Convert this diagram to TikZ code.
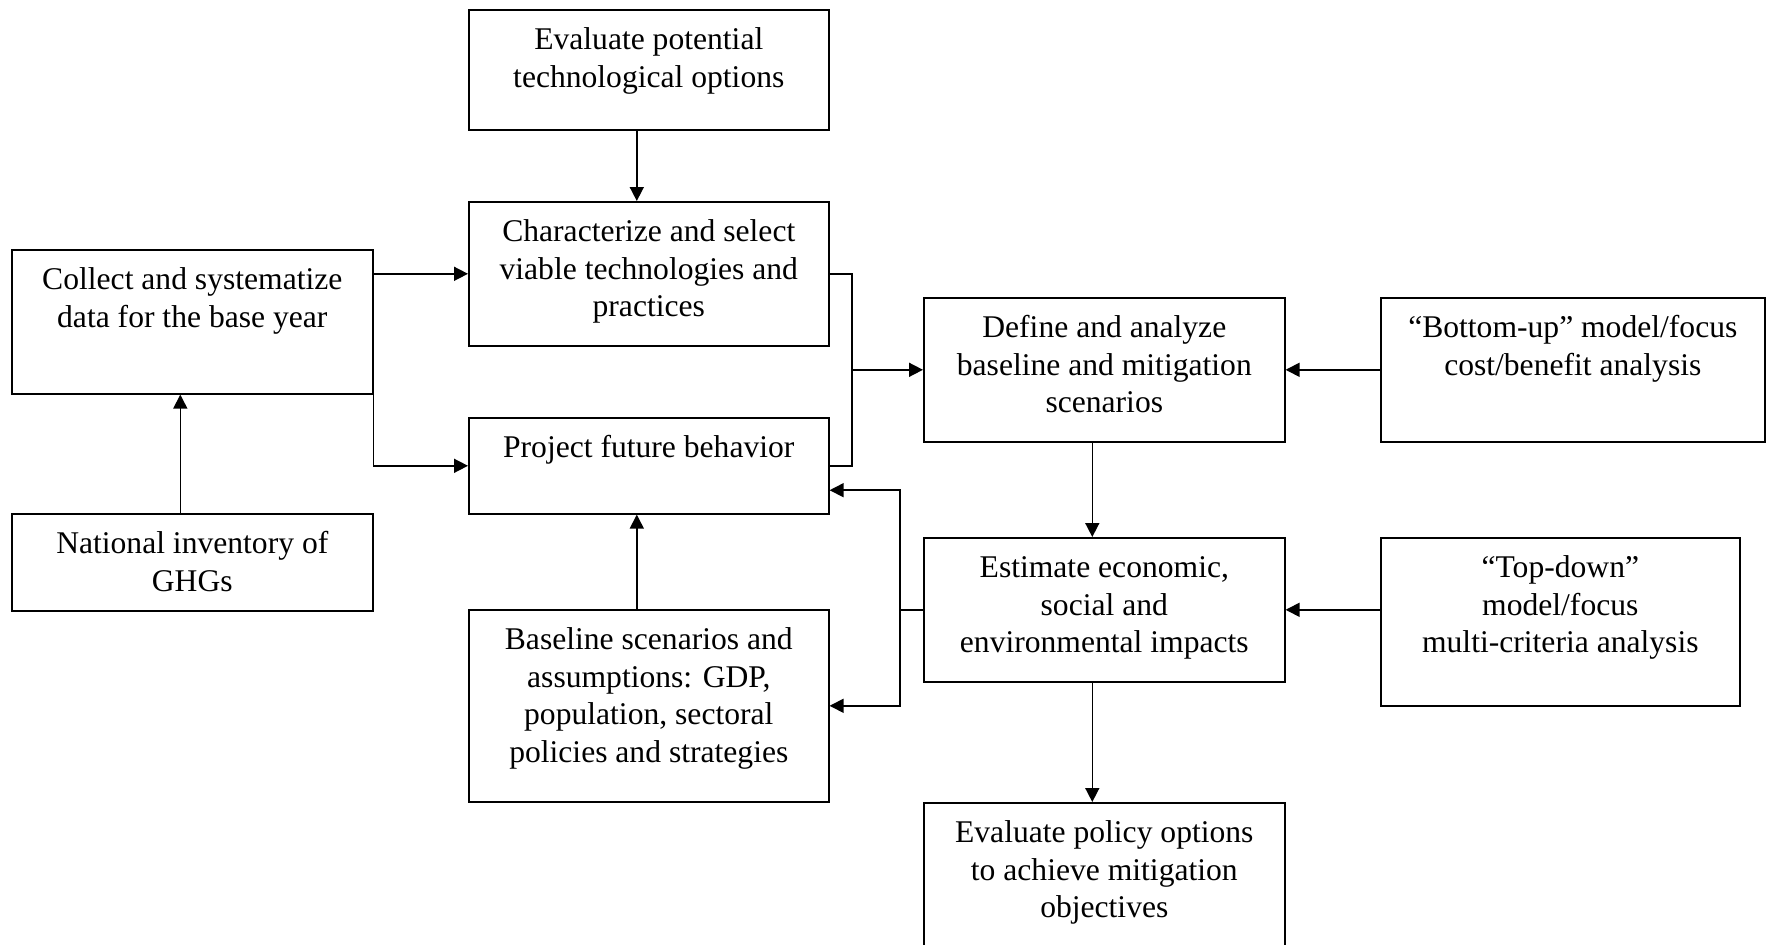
\documentclass[tikz,border=0pt]{standalone}
\usepackage{fontspec}
\setmainfont{Liberation Serif}
\usepackage{tikz}
\usetikzlibrary{arrows.meta,calc}

\newcommand{\stagebox}[3]{\parbox[t][#2][t]{#1}{\centering\rule{0pt}{20pt}#3}}

\tikzset{
    stage/.style={draw, line width=0.8pt, anchor=north west, inner sep=0pt,
        font=\fontsize{15.8pt}{18.75pt}\selectfont},
    flow/.style={line width=0.8pt, -{Triangle[length=7pt,width=7pt]}},
    link/.style={line width=0.8pt}
}

\begin{document}
\begin{tikzpicture}[x=0.5pt,y=-0.5pt]
    \useasboundingbox (0,0) rectangle (1773,944);

    \node[stage] (evaltech) at (468,9) {\stagebox{180pt}{60pt}{Evaluate potential\\technological options}};
    \node[stage] (charact) at (468,201) {\stagebox{180pt}{72pt}{Characterize and select\\viable technologies and\\practices}};
    \node[stage] (project) at (468,417) {\stagebox{180pt}{48pt}{Project future behavior}};
    \node[stage] (baseline) at (468,609) {\stagebox{180pt}{96pt}{Baseline scenarios and\\assumptions: GDP,\\population, sectoral\\policies and strategies}};
    \node[stage] (collect) at (11,249) {\stagebox{180.5pt}{72pt}{Collect and systematize\\data for the base year}};
    \node[stage] (inventory) at (11,513) {\stagebox{180.5pt}{48.5pt}{National inventory of\\GHGs}};
    \node[stage] (define) at (923,297) {\stagebox{180.5pt}{72pt}{Define and analyze\\baseline and mitigation\\scenarios}};
    \node[stage] (estimate) at (923,537) {\stagebox{180.5pt}{72pt}{Estimate economic,\\social and\\environmental impacts}};
    \node[stage] (policy) at (923,802) {\stagebox{180.5pt}{72pt}{Evaluate policy options\\to achieve mitigation\\objectives}};
    \node[stage] (bottomup) at (1380,297) {\stagebox{192pt}{72pt}{“Bottom-up” model/focus\\cost/benefit analysis}};
    \node[stage] (topdown) at (1380,537) {\stagebox{179.5pt}{84pt}{“Top-down”\\model/focus\\multi-criteria analysis}};

    \coordinate (merge) at (852,0);
    \coordinate (feedback) at (900,0);
    \coordinate (projectin) at ($(project.north east)!0.75!(project.south east)$);

    \draw[flow] ([xshift=-6pt]evaltech.south) -- ([xshift=-6pt]charact.north);
    \draw[flow] (charact.west -| collect.east) -- (charact.west);
    \draw[flow] (collect.south east) |- (project.west);
    \draw[flow] ([xshift=-6pt]inventory.north) -- ([xshift=-6pt]collect.south);
    \draw[flow] ([xshift=-6pt]baseline.north) -- ([xshift=-6pt]project.south);

    \draw[link] (charact.east) -| (merge |- project.east) -- (project.east);
    \draw[flow] (merge |- define.west) -- (define.west);

    \draw[link] (estimate.west) -- (feedback |- estimate.west);
    \draw[flow] (feedback |- estimate.west) |- (projectin);
    \draw[flow] (feedback |- estimate.west) |- (baseline.east);

    \draw[flow] ([xshift=-6pt]define.south) -- ([xshift=-6pt]estimate.north);
    \draw[flow] ([xshift=-6pt]estimate.south) -- ([xshift=-6pt]policy.north);
    \draw[flow] (bottomup.west) -- (define.east);
    \draw[flow] (topdown.west |- estimate.east) -- (estimate.east);
\end{tikzpicture}
\end{document}
